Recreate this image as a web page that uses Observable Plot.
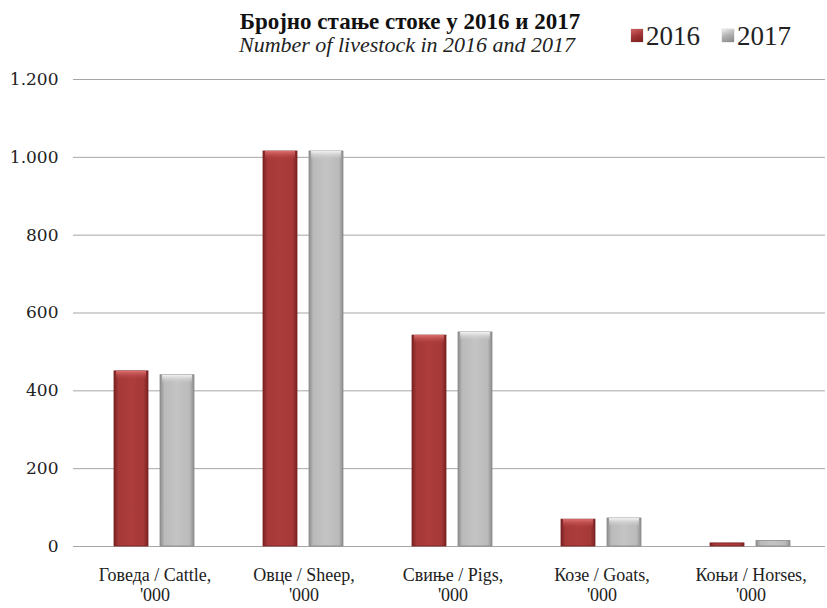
<!DOCTYPE html>
<html>
<head>
<meta charset="utf-8">
<script src="https://cdn.jsdelivr.net/npm/d3@7"></script>
<script src="https://cdn.jsdelivr.net/npm/@observablehq/plot@0.6"></script>
<style>
  html, body { margin: 0; padding: 0; background: #fff; }
  #wrap { position: relative; width: 827px; height: 608px; overflow: hidden; }
  #header { position: relative; width: 827px; height: 60px; }
  #title { position: absolute; left: 110px; width: 600px; text-align: center; top: 10.3px; line-height: 23px; font-family: "Liberation Serif", serif; font-weight: bold; font-size: 23px; color: #111; white-space: nowrap; }
  #subtitle { position: absolute; left: 107px; width: 600px; text-align: center; top: 34px; line-height: 22px; font-family: "Liberation Serif", serif; font-style: italic; font-size: 22px; color: #222; white-space: nowrap; }
  #legend { position: absolute; left: 631px; top: 23.4px; line-height: 27px; font-family: "Liberation Serif", serif; font-size: 27px; color: #222; white-space: nowrap; }
  .sw { display: inline-block; width: 12px; height: 13px; margin-right: 3px; vertical-align: 3px; box-shadow: 0 0 1px rgba(0,0,0,0.4); }
  .item { display: inline-block; margin-right: 22px; }
</style>
</head>
<body>
<div id="wrap">
  <div id="header">
    <div id="title"></div>
    <div id="subtitle"></div>
    <div id="legend"></div>
  </div>
  <div id="chart"></div>
</div>
<script>
const titleText = "Бројно стање стоке у 2016 и 2017";
const subtitleText = "Number of livestock in 2016 and 2017";
const categories = [
  "Говеда / Cattle,\n'000",
  "Овце / Sheep,\n'000",
  "Свиње / Pigs,\n'000",
  "Козе / Goats,\n'000",
  "Коњи / Horses,\n'000"
];
const years = ["2016", "2017"];
const values2016 = [450, 1015, 542, 69, 8];
const values2017 = [440, 1015, 550, 72, 14];
const yTicks = [0, 200, 400, 600, 800, 1000, 1200];

const data = categories.flatMap((c, i) => [
  {cat: c, year: years[0], value: values2016[i]},
  {cat: c, year: years[1], value: values2017[i]}
]);

document.getElementById("title").textContent = titleText;
document.getElementById("subtitle").textContent = subtitleText;
const legendColors = {
  "2016": "linear-gradient(160deg, #d46464, #a03434 50%, #7a2020)",
  "2017": "linear-gradient(160deg, #eeeeee, #b0b0b0 50%, #888888)"
};
document.getElementById("legend").innerHTML = years.map(y =>
  `<span class="item"><span class="sw" style="background:${legendColors[y]}"></span>${y}</span>`).join("");

const fmt = d => d3.format(",")(d).replace(/,/g, ".");

const chart = Plot.plot({
  width: 827,
  height: 548,
  marginTop: 19,
  marginLeft: 79,
  marginRight: 2,
  marginBottom: 62,
  style: {fontFamily: "Liberation Serif, serif", fontSize: "18px", color: "#222", background: "#fff"},
  fx: {domain: categories, padding: 0, label: null},
  x: {domain: years, paddingInner: 0.255, paddingOuter: 0.715, axis: null},
  y: {domain: [0, 1200], label: null},
  marks: [
    Plot.ruleY(yTicks, {stroke: "#a6a6a6", strokeWidth: 1}),
    Plot.barY(data, {
      fx: "cat", x: "year", y: "value",
      fill: d => d.year === "2016" ? "url(#g2016)" : "url(#g2017)",
      stroke: d => d.year === "2016" ? "#7a2222" : "#8a8a8a",
      strokeWidth: 0.8
    }),
    Plot.barY(data.filter(d => d.value > 30), {
      fx: "cat", x: "year", y1: "value", y2: "value",
      insetBottom: -9, insetLeft: 2, insetRight: 2,
      fill: d => d.year === "2016" ? "url(#h2016)" : "url(#h2017)"
    }),
    Plot.axisY({
      ticks: yTicks, tickFormat: fmt, tickSize: 7, tickPadding: 15,
      stroke: "#a6a6a6", fill: "#222", line: true,
      fontFamily: "DejaVu Serif, serif", fontSize: 17, label: null
    }),
    Plot.axisFx({
      anchor: "bottom", tickSize: 0, tickPadding: 20, label: null,
      lineHeight: 1.13, fontSize: 18, fill: "#222"
    })
  ]
});

const defs = `
<defs>
  <linearGradient id="g2016" x1="0" x2="1" y1="0" y2="0">
    <stop offset="0" stop-color="#7a2222"/>
    <stop offset="0.13" stop-color="#a53838"/>
    <stop offset="0.5" stop-color="#ad3d3d"/>
    <stop offset="0.87" stop-color="#a53838"/>
    <stop offset="1" stop-color="#7a2222"/>
  </linearGradient>
  <linearGradient id="g2017" x1="0" x2="1" y1="0" y2="0">
    <stop offset="0" stop-color="#8e8e8e"/>
    <stop offset="0.13" stop-color="#bababa"/>
    <stop offset="0.5" stop-color="#c4c4c4"/>
    <stop offset="0.87" stop-color="#bababa"/>
    <stop offset="1" stop-color="#8e8e8e"/>
  </linearGradient>
  <linearGradient id="h2016" x1="0" x2="0" y1="0" y2="1">
    <stop offset="0" stop-color="#e07070"/>
    <stop offset="1" stop-color="#ad3d3d" stop-opacity="0"/>
  </linearGradient>
  <linearGradient id="h2017" x1="0" x2="0" y1="0" y2="1">
    <stop offset="0" stop-color="#f4f4f4"/>
    <stop offset="1" stop-color="#c4c4c4" stop-opacity="0"/>
  </linearGradient>
</defs>`;
chart.insertAdjacentHTML("afterbegin", defs);
document.getElementById("chart").appendChild(chart);
</script>
</body>
</html>
